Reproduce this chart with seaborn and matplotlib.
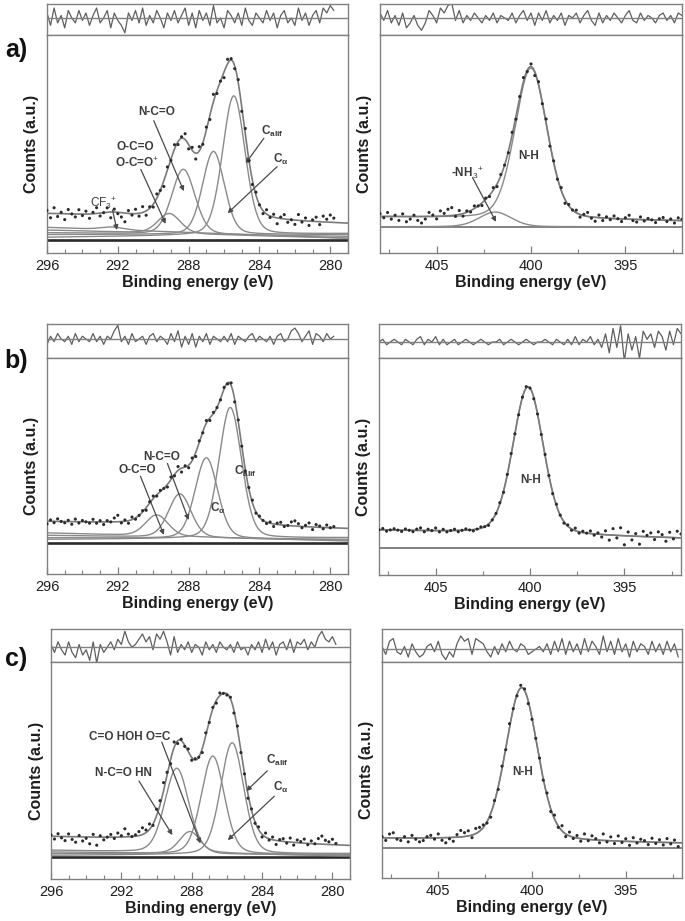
import numpy as np
import pandas as pd
import seaborn as sns
import matplotlib.pyplot as plt
from matplotlib.ticker import MultipleLocator

sns.set_style("white")
plt.rcParams['font.family'] = ['Liberation Sans', 'DejaVu Sans']
plt.rcParams['mathtext.fontset'] = 'custom'
plt.rcParams['mathtext.rm'] = 'Liberation Sans'
plt.rcParams['mathtext.it'] = 'Liberation Sans:italic'
plt.rcParams['mathtext.bf'] = 'Liberation Sans:bold'

# ---------------- fitted components: centre (eV), height, FWHM (eV) ----------------
# a) C1s : CF3+, O-C=O, N-C=O, C_alpha, C_alif
a_c1s_center = [292.3, 289.1, 288.3, 286.6, 285.45]
a_c1s_height = [0.015, 0.11, 0.36, 0.46, 0.77]
a_c1s_fwhm = [1.5, 1.5, 1.55, 1.45, 1.5]
a_c1s_base_hi = [0.07, 0.055, 0.04, 0.03, 0.015]   # component base at 296 eV
a_c1s_base_lo = [0.01, 0.01, 0.02, 0.03, 0.035]    # component base at 279 eV
a_c1s_bg = [0.145, 0.09]
# a) N1s : -NH3+, N-H
a_n1s_center = [401.9, 400.0]
a_n1s_height = [0.09, 0.92]
a_n1s_fwhm = [2.0, 2.0]
a_n1s_base_hi = [0.0, 0.06]
a_n1s_base_lo = [0.0, 0.035]
a_n1s_bg = [0.06, 0.035]

# b) C1s : O-C=O, N-C=O, C_alpha, C_alif
b_c1s_center = [289.8, 288.5, 287.0, 285.65]
b_c1s_height = [0.13, 0.27, 0.50, 0.81]
b_c1s_fwhm = [1.5, 1.5, 1.5, 1.5]
b_c1s_base_hi = [0.06, 0.045, 0.03, 0.02]
b_c1s_base_lo = [0.01, 0.015, 0.02, 0.03]
b_c1s_bg = [0.13, 0.085]
# b) N1s : N-H
b_n1s_center = [400.1]
b_n1s_height = [0.91]
b_n1s_fwhm = [1.9]
b_n1s_base_hi = [0.11]
b_n1s_base_lo = [0.06]
b_n1s_bg = [0.11, 0.06]

# c) C1s : C=O HOH O=C, N-C=O HN, C_alpha, C_alif
c_c1s_center = [288.85, 288.1, 286.8, 285.7]
c_c1s_height = [0.50, 0.13, 0.58, 0.66]
c_c1s_fwhm = [1.6, 1.4, 1.55, 1.55]
c_c1s_base_hi = [0.04, 0.03, 0.02, 0.01]
c_c1s_base_lo = [0.005, 0.01, 0.015, 0.02]
c_c1s_bg = [0.12, 0.065]
# c) N1s : N-H
c_n1s_center = [400.55]
c_n1s_height = [0.95]
c_n1s_fwhm = [2.0]
c_n1s_base_hi = [0.06]
c_n1s_base_lo = [0.03]
c_n1s_bg = [0.06, 0.03]

a_c1s_res = [2, -3, 4, -2, 1, -4, 3, 0, -2, 3, -1, 2, -3, 1, 4, -2, 0, 3, -4, 2, -1,
             -3, -6, 2, -1, 3, -2, 4, -3, 1, -2, 3, 0, -4, 2, -1, 3, -2, 1, 4, -3,
             2, -4, 3, -1, 2, -3, 5, -2, 0, -4, 3, 1, -2, 2, -3, 4, -1, -3, 2, 0,
             -2, 3, -1, 2, -4, 1, 3, -2, 0, -3, 4, -1, 2, -3, 1, 3, -2, 4, 2, 5, 3]
a_n1s_res = [2, -1, 3, -2, 1, -3, 2, -4, -2, 1, -3, -5, -2, 3, 1, -2, 4, 2, 5, 6, -1,
             3, -2, 1, -1, 2, 0, -2, 1, -1, 2, -2, 1, 0, -1, 2, -2, 1, 3, -1, 2,
             -3, 2, -1, 3, -2, 1, -1, 2, -3, 1, 0, 2, -2, 1, 3, -1, -3, 2, -2, 1,
             -1, 2, 0, -2, 1, 3, -1, -2, 2, -1, 1, 0, -2, 1, 2, -1, 1, -2, 2, 1]
b_c1s_res = [-2, 1, -1, 2, 0, -1, 1, -2, 2, -1, 1, 0, -1, 2, -1, 1, -2, 1, 0, 3, 5,
             -1, 1, -2, 2, -1, 0, 1, -2, 1, 2, -1, 1, 0, -2, 2, -1, 3, -3, 1, -2,
             2, -3, 1, -1, 2, -2, 1, 0, -1, 1, -1, 2, -2, 1, 0, -1, 1, 2, -1, 1,
             0, -1, 1, -2, 1, 2, -1, 0, 3, 4, 2, -1, 1, 3, -2, 2, 1, -1, 2, 0, 1]
b_n1s_res = [0, 1, -1, 0, 1, 0, -1, 1, 0, -1, 1, 2, -1, 1, 0, 2, -1, 1, -1, 0, 1,
             -1, 0, 1, 0, -1, 0, 1, 0, -1, 0, 0, 1, -1, 0, 1, 0, -1, 0, 1,
             0, -1, 0, 0, 1, 0, -1, 1, 0, -1, 1, -1, 2, -1, 1, 0, 2, -1, 1, -2,
             3, -4, 5, -2, 6, -7, 3, -3, 2, -6, 4, 1, 3, -2, 4, 2, -3, 4, -1, 5, 3]
c_c1s_res = [1, -2, 2, -1, -3, 2, -2, -4, 1, -3, -1, -5, 2, -6, 1, -2, 0, 2, -1, 3, 1,
             6, 2, 0, 1, 3, 5, 2, 4, -1, 5, 3, 6, 2, -3, 4, -2, 1, -1, 2,
             -2, 1, 0, -3, 2, -1, 1, -2, 2, 0, -1, 1, -2, 2, -1, 0, -3, 1, -1, 2,
             -2, 3, -1, 2, -3, 1, 2, -1, 3, -2, 2, 1, 3, -1, 2, 0, 4, 6, 3, 2, 4, 1]
c_n1s_res = [1, -2, 3, 4, -1, -2, 1, -3, 2, -1, -3, -2, 1, 2, -1, 3, -2, -4, -1, -3, 2,
             5, 3, 4, -2, 4, 3, 2, -1, -3, 1, -2, 2, -1, 3, 0, -1, 2, 1, -2,
             -1, 0, 1, -1, 2, -2, 3, -1, 4, -2, 3, -1, 2, -2, 4, -1, 3, 1, -2, 5,
             -1, 3, -2, 4, -1, 2, -3, 3, -1, 2, 1, -2, 3, -1, 2, -2, 3, -1, 2, -3]

FIG_W, FIG_H = 685, 921
GREY = "#808080"
TXT = "#3c3c3c"


def rect(x0, y0, x1, y1):
    return [x0 / FIG_W, 1 - y1 / FIG_H, (x1 - x0) / FIG_W, (y1 - y0) / FIG_H]


def peak(x, c, h, w, eta=0.2):
    g = np.exp(-4 * np.log(2) * ((x - c) / w) ** 2)
    l = 1 / (1 + 4 * ((x - c) / w) ** 2)
    return h * ((1 - eta) * g + eta * l)


def style_box(ax):
    for s in ax.spines.values():
        s.set_color(GREY)
        s.set_linewidth(1.0)


def panel(xs, ys_res, ys_main, xlim, ylim, zero_frac, centers, heights, fwhms,
          base_hi, base_lo, bg, resid, major, minor, dark_base, labels):
    ax_r = fig.add_axes(rect(xs[0], ys_res[0], xs[1], ys_res[1]))
    ax = fig.add_axes(rect(xs[0], ys_main[0], xs[1], ys_main[1]))

    xf = np.linspace(xlim[0], xlim[1], 700)
    env = np.interp(xf, [xlim[1], xlim[0]], [bg[1], bg[0]])
    comps = []
    for c, h, w, bh, bl in zip(centers, heights, fwhms, base_hi, base_lo):
        p = peak(xf, c, h, w)
        env = env + p
        comps.append(np.interp(xf, [xlim[1], xlim[0]], [bl, bh]) + p)

    r = np.array(resid, dtype=float)
    xp = xlim[0] - 0.2 * np.arange(len(r))
    yp = np.interp(xp, xf[::-1], env[::-1]) + 0.008 * r
    pts = pd.DataFrame({"BE": xp, "counts": yp, "res": 0.16 * r})

    # residual strip
    sns.lineplot(data=pts, x="BE", y="res", ax=ax_r, color="#5e5e5e", lw=0.9,
                 estimator=None, sort=False)
    ax_r.axhline(0, color=GREY, lw=1.0)
    ax_r.set_xlim(xlim)
    ax_r.set_ylim(-2 * zero_frac, 2 * (1 - zero_frac))
    ax_r.set_xticks([])
    ax_r.set_yticks([])
    ax_r.set_xlabel("")
    ax_r.set_ylabel("")
    style_box(ax_r)

    # main spectrum
    if dark_base:
        ax.axhline(0, color="#2a2a2a", lw=1.9, zorder=1)
    else:
        ax.axhline(0, color="#777777", lw=1.3, zorder=1)
    for cy in comps:
        sns.lineplot(x=xf, y=cy, ax=ax, color="#8a8a8a", lw=1.0, estimator=None, sort=False)
    sns.lineplot(x=xf, y=env, ax=ax, color="#7a7a7a", lw=1.2, estimator=None, sort=False)
    sns.scatterplot(data=pts, x="BE", y="counts", ax=ax, color="#2b2b2b", s=5,
                    edgecolor="none", zorder=5)

    ax.set_xlim(xlim)
    ax.set_ylim(ylim)
    ax.set_yticks([])
    ax.xaxis.set_major_locator(MultipleLocator(major))
    ax.xaxis.set_minor_locator(MultipleLocator(minor))
    ax.tick_params(axis="x", which="major", direction="in", length=5, width=0.9,
                   color=GREY, labelsize=10.5, labelcolor="#1e1e1e", pad=4)
    ax.tick_params(axis="x", which="minor", direction="in", length=3, width=0.8, color=GREY)
    ax.tick_params(axis="x", which="both", bottom=True, top=False)
    ax.set_xlabel("Binding energy (eV)", fontsize=11.5, fontweight="bold",
                  color="#1e1e1e", labelpad=2)
    ax.set_ylabel("Counts (a.u.)", fontsize=11.5, fontweight="bold", color="#1e1e1e")
    ax.yaxis.set_label_coords(-0.025, 0.5)
    style_box(ax)

    for text, tpos, apos, bold in labels:
        kw = dict(ha="center", va="center", fontsize=8.5, color=TXT,
                  fontweight="bold" if bold else "normal")
        ax.text(tpos[0], tpos[1], text, **kw)
        if apos is not None:
            ax.annotate("", xy=apos[1], xytext=apos[0],
                        arrowprops=dict(arrowstyle="-|>", color="#4a4a4a", lw=0.9,
                                        mutation_scale=7, shrinkA=0, shrinkB=0))
    return ax


fig = plt.figure(figsize=(FIG_W / 100, FIG_H / 100), dpi=100)

C_ALIF = r"C$_{\mathregular{alif}}$"
C_ALPHA = r"C$_{\mathregular{α}}$"

# row a
panel((47, 348), (4, 35), (35, 253), (296, 279), (-0.072, 1.134), 0.55,
      a_c1s_center, a_c1s_height, a_c1s_fwhm, a_c1s_base_hi, a_c1s_base_lo, a_c1s_bg,
      a_c1s_res, 4, 1, True,
      [("N-C=O", (289.78, 0.71), ((289.97, 0.66), (288.27, 0.27)), True),
       ("O-C=O", (291.0, 0.516), None, True),
       ("O-C=O$^{+}$", (290.9, 0.424), ((290.7, 0.39), (289.3, 0.089)), True),
       ("CF$_3$$^{+}$", (292.8, 0.203), ((292.3, 0.166), (292.05, 0.055)), False),
       (C_ALIF, (283.27, 0.60), ((283.75, 0.563), (284.78, 0.424)), True),
       (C_ALPHA, (282.8, 0.443), ((283.0, 0.406), (285.8, 0.148)), True)])
panel((380, 682), (4, 35), (35, 253), (408, 392), (-0.16, 1.17), 0.55,
      a_n1s_center, a_n1s_height, a_n1s_fwhm, a_n1s_base_hi, a_n1s_base_lo, a_n1s_bg,
      a_n1s_res, 5, 2.5, False,
      [("N-H", (400.1, 0.43), None, True),
       ("-NH$_3$$^{+}$", (403.36, 0.33), ((403.1, 0.30), (401.85, 0.03)), True)])

# row b
panel((47, 348), (324, 358), (358, 574), (296, 279), (-0.194, 1.142), 0.56,
      b_c1s_center, b_c1s_height, b_c1s_fwhm, b_c1s_base_hi, b_c1s_base_lo, b_c1s_bg,
      b_c1s_res, 4, 1, True,
      [("N-C=O", (289.5, 0.53), ((289.2, 0.49), (288.0, 0.14)), True),
       ("O-C=O", (290.9, 0.45), ((290.72, 0.41), (289.4, 0.048)), True),
       (C_ALIF, (284.8, 0.44), None, True),
       (C_ALPHA, (286.35, 0.21), None, True)])
panel((379, 681), (324, 358), (358, 575), (408, 392), (-0.167, 1.173), 0.47,
      b_n1s_center, b_n1s_height, b_n1s_fwhm, b_n1s_base_hi, b_n1s_base_lo, b_n1s_bg,
      b_n1s_res, 5, 2.5, False,
      [("N-H", (399.97, 0.42), None, True)])

# row c
panel((51, 350), (629, 662), (662, 879), (296, 279), (-0.13, 1.154), 0.45,
      c_c1s_center, c_c1s_height, c_c1s_fwhm, c_c1s_base_hi, c_c1s_base_lo, c_c1s_bg,
      c_c1s_res, 4, 1, True,
      [("C=O HOH O=C", (291.55, 0.71), ((289.7, 0.68), (287.5, 0.08)), True),
       ("N-C=O HN", (291.9, 0.495), ((291.0, 0.45), (289.1, 0.13)), True),
       (C_ALIF, (283.14, 0.57), ((283.7, 0.51), (284.9, 0.39)), True),
       (C_ALPHA, (282.95, 0.41), ((283.3, 0.36), (285.95, 0.10)), True)])
panel((382, 682), (629, 662), (662, 878), (408, 392), (-0.186, 1.155), 0.39,
      c_n1s_center, c_n1s_height, c_n1s_fwhm, c_n1s_base_hi, c_n1s_base_lo, c_n1s_bg,
      c_n1s_res, 5, 2.5, False,
      [("N-H", (400.5, 0.47), None, True)])

for lab, y in [("a)", 50), ("b)", 361), ("c)", 659)]:
    fig.text(16 / FIG_W, 1 - y / FIG_H, lab, fontsize=18, fontweight="bold",
             ha="center", va="center", color="#111111")

fig.savefig("out.png", dpi=100)
